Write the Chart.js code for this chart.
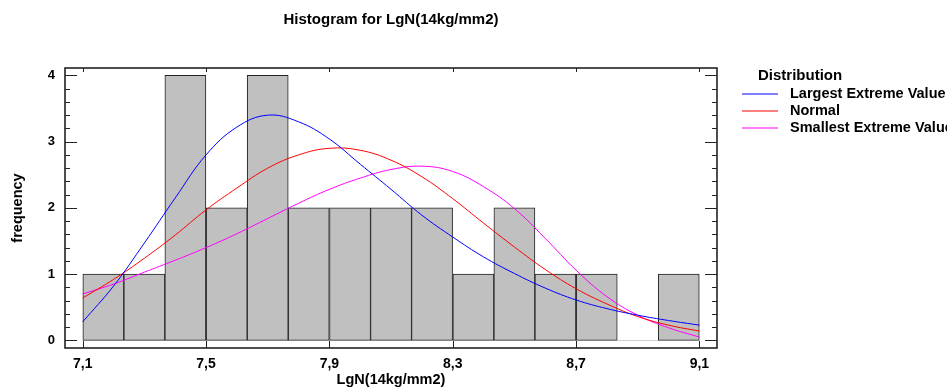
<!DOCTYPE html>
<html lang="en">
<head>
    <meta charset="UTF-8">
    <title>Histogram for LgN(14kg/mm2)</title>
    <script src="https://cdn.jsdelivr.net/npm/chart.js"></script>
    <style>
        html, body { margin: 0; padding: 0; background: #fff; }
        #wrap { width: 947px; height: 390px; }
    </style>
</head>
<body>
    <div id="wrap"><canvas id="histChart"></canvas></div>
    <script>
// histogram bins (centres) and counts
const binCenters = [7.167, 7.3, 7.433, 7.567, 7.7, 7.833, 7.967, 8.1, 8.233, 8.367, 8.5, 8.633, 8.767, 8.9, 9.033];
const binCounts = [1, 1, 4, 2, 4, 2, 2, 2, 2, 1, 2, 1, 1, 0, 1];

// fitted curves
const curveX = [7.1, 7.2, 7.3, 7.4, 7.5, 7.6, 7.7, 7.8, 7.9, 8.0, 8.1, 8.2, 8.3, 8.4, 8.5, 8.6, 8.7, 8.8, 8.9, 9.0, 9.1];
const largestExtreme = [0.28, 0.82, 1.47, 2.15, 2.80, 3.22, 3.40, 3.30, 3.04, 2.66, 2.28, 1.89, 1.56, 1.26, 1.01, 0.79, 0.61, 0.48, 0.38, 0.30, 0.23];
const normalFit = [0.64, 0.92, 1.24, 1.59, 1.97, 2.30, 2.60, 2.80, 2.90, 2.87, 2.72, 2.47, 2.14, 1.77, 1.41, 1.07, 0.78, 0.55, 0.36, 0.23, 0.14];
const smallestExtreme = [0.70, 0.85, 1.03, 1.21, 1.40, 1.61, 1.84, 2.07, 2.28, 2.45, 2.58, 2.63, 2.55, 2.32, 1.99, 1.54, 1.06, 0.66, 0.38, 0.19, 0.05];

const xTicks = [7.1, 7.5, 7.9, 8.3, 8.7, 9.1];
const yTicks = [0, 1, 2, 3, 4];

const titleText = 'Histogram for LgN(14kg/mm2)';
const legendTitle = 'Distribution';

const FONT = '"Liberation Sans", Arial, sans-serif';

function pts(ys) {
    return curveX.map((x, i) => ({ x: x, y: ys[i] }));
}

function comma(v) {
    return Number(v).toFixed(1).replace('.', ',');
}

// frame, inward ticks, title and legend
const decorations = {
    id: 'decorations',
    afterDatasetsDraw(chart) {
        const ctx = chart.ctx;
        const a = chart.chartArea;
        const xs = chart.scales.x;
        const ys = chart.scales.y;

        ctx.save();
        ctx.strokeStyle = '#222';
        ctx.lineWidth = 1.6;
        ctx.strokeRect(a.left, a.top, a.right - a.left, a.bottom - a.top);

        ctx.lineWidth = 1;
        ctx.beginPath();
        // y ticks, major every 1, minor every 0.2
        for (let i = 0; i <= 20; i++) {
            const v = i * 0.2;
            const py = Math.round(ys.getPixelForValue(v)) + 0.5;
            const len = (i % 5 === 0) ? 12 : 5;
            ctx.moveTo(a.left, py); ctx.lineTo(a.left + len, py);
            ctx.moveTo(a.right, py); ctx.lineTo(a.right - len, py);
        }
        // x ticks
        xTicks.forEach(v => {
            const px = Math.round(xs.getPixelForValue(v)) + 0.5;
            ctx.moveTo(px, a.top); ctx.lineTo(px, a.top + 4);
            ctx.moveTo(px, a.bottom); ctx.lineTo(px, a.bottom - 7);
        });
        ctx.stroke();

        // title
        ctx.fillStyle = '#000';
        ctx.font = 'bold 15px ' + FONT;
        ctx.textAlign = 'center';
        ctx.textBaseline = 'middle';
        ctx.fillText(titleText, (a.left + a.right) / 2, 20);

        // legend
        ctx.textAlign = 'left';
        ctx.fillText(legendTitle, 758, 76);
        ctx.font = 'bold 14.5px ' + FONT;
        const lines = chart.data.datasets.filter(d => d.type === 'line');
        lines.forEach((d, i) => {
            const y = 94 + i * 17;
            ctx.strokeStyle = d.borderColor;
            ctx.lineWidth = 1;
            ctx.beginPath();
            ctx.moveTo(742, y); ctx.lineTo(778, y);
            ctx.stroke();
            ctx.fillText(d.label, 790, y);
        });
        ctx.restore();
    }
};

const ctx = document.getElementById('histChart').getContext('2d');
const chart = new Chart(ctx, {
    type: 'bar',
    data: {
        datasets: [
            {
                type: 'line',
                label: 'Largest Extreme Value',
                data: pts(largestExtreme),
                borderColor: '#0000ff',
                borderWidth: 1,
                pointRadius: 0,
                tension: 0.4,
                order: 0
            },
            {
                type: 'line',
                label: 'Normal',
                data: pts(normalFit),
                borderColor: '#ff0000',
                borderWidth: 1,
                pointRadius: 0,
                tension: 0.4,
                order: 0
            },
            {
                type: 'line',
                label: 'Smallest Extreme Value',
                data: pts(smallestExtreme),
                borderColor: '#ff00ff',
                borderWidth: 1,
                pointRadius: 0,
                tension: 0.4,
                order: 0
            },
            {
                type: 'bar',
                label: 'frequency',
                data: binCenters.map((x, i) => ({ x: x, y: binCounts[i] })),
                backgroundColor: '#c0c0c0',
                borderColor: '#222',
                borderWidth: c => (c.raw && c.raw.y > 0) ? 1 : 0,
                borderSkipped: false,
                barPercentage: 1,
                categoryPercentage: 1,
                order: 1
            }
        ]
    },
    options: {
        responsive: true,
        maintainAspectRatio: false,
        animation: false,
        events: [],
        layout: { padding: { left: 0, top: 68, right: 230, bottom: 0 } },
        plugins: {
            legend: { display: false },
            title: { display: false },
            tooltip: { enabled: false }
        },
        scales: {
            x: {
                type: 'linear',
                offset: false,
                min: 7.0426,
                max: 9.157,
                afterBuildTicks: s => { s.ticks = xTicks.map(v => ({ value: v })); },
                afterFit: s => { s.height = 42; },
                grid: { display: false, drawTicks: false },
                border: { display: false },
                ticks: {
                    padding: 8,
                    maxRotation: 0,
                    color: '#000',
                    font: { family: FONT, size: 14, weight: 'bold' },
                    callback: v => comma(v)
                },
                title: {
                    display: true,
                    text: 'LgN(14kg/mm2)',
                    color: '#000',
                    font: { family: FONT, size: 14.5, weight: 'bold' },
                    padding: { top: 0, bottom: 1 }
                }
            },
            y: {
                min: -0.115,
                max: 4.112,
                afterBuildTicks: s => { s.ticks = yTicks.map(v => ({ value: v })); },
                afterFit: s => { s.width = 65; },
                grid: { display: false, drawTicks: false },
                border: { display: false },
                ticks: {
                    padding: 10,
                    color: '#000',
                    font: { family: FONT, size: 13, weight: 'bold' },
                    callback: v => String(v)
                },
                title: {
                    display: true,
                    text: 'frequency',
                    color: '#000',
                    font: { family: FONT, size: 14.5, weight: 'bold' },
                    padding: { top: 9, bottom: 0 }
                }
            }
        }
    },
    plugins: [decorations]
});
    </script>
</body>
</html>
